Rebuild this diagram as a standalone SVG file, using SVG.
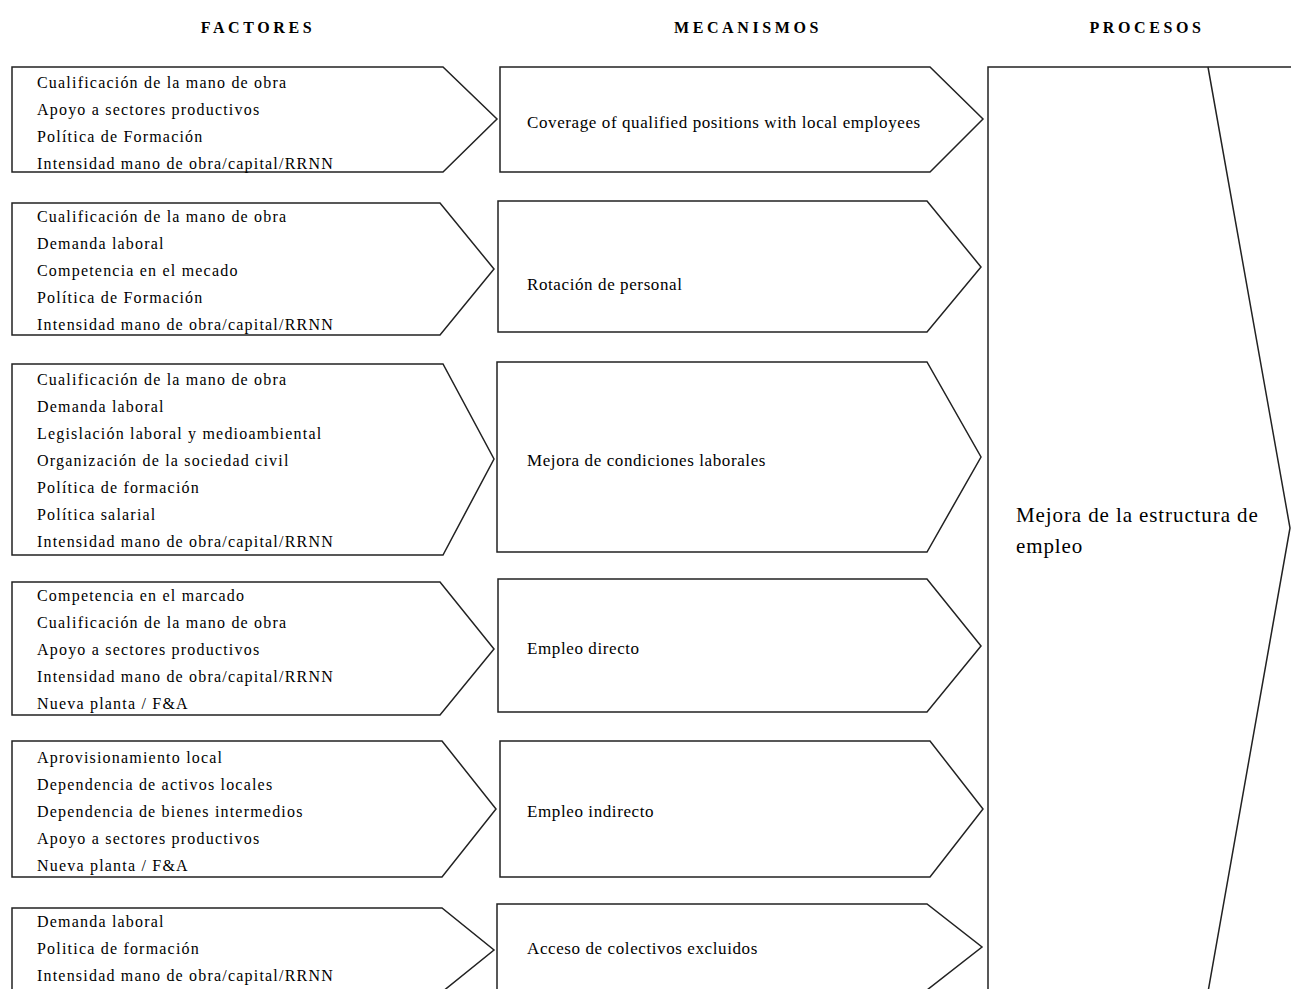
<svg xmlns="http://www.w3.org/2000/svg" width="1291" height="989" viewBox="0 0 1291 989">
  <style>
    .box { fill: #ffffff; stroke: #222222; stroke-width: 1.5; stroke-linejoin: miter; }
    .head { font-family: "Liberation Serif", "Times New Roman", serif; font-size: 16px; font-weight: bold; letter-spacing: 3.6px; fill: #000; text-anchor: middle; }
    .fac { font-family: "Liberation Serif", "Times New Roman", serif; font-size: 16px; letter-spacing: 1.2px; fill: #000; }
    .mec { font-family: "Liberation Serif", "Times New Roman", serif; font-size: 17px; letter-spacing: 0.6px; fill: #000; }
    .pro { font-family: "Liberation Serif", "Times New Roman", serif; font-size: 21px; letter-spacing: 0.9px; fill: #000; }
  </style>
  <rect width="1291" height="989" fill="#ffffff"/>

  <!-- column headings -->
  <g id="headings">
    <text class="head" x="258" y="33">FACTORES</text>
    <text class="head" x="748" y="33">MECANISMOS</text>
    <text class="head" x="1147" y="33">PROCESOS</text>
  </g>

  <!-- factor chevrons -->
  <g id="factor-1">
    <polygon class="box" points="12,67 443,67 497,119 443,172 12,172"/>
    <text class="fac" x="37" y="88">Cualificación de la mano de obra</text>
    <text class="fac" x="37" y="115">Apoyo a sectores productivos</text>
    <text class="fac" x="37" y="142">Política de Formación</text>
    <text class="fac" x="37" y="169">Intensidad mano de obra/capital/RRNN</text>
  </g>
  <g id="factor-2">
    <polygon class="box" points="12,203 440,203 494,269 440,335 12,335"/>
    <text class="fac" x="37" y="222">Cualificación de la mano de obra</text>
    <text class="fac" x="37" y="249">Demanda laboral</text>
    <text class="fac" x="37" y="276">Competencia en el mecado</text>
    <text class="fac" x="37" y="303">Política de Formación</text>
    <text class="fac" x="37" y="330">Intensidad mano de obra/capital/RRNN</text>
  </g>
  <g id="factor-3">
    <polygon class="box" points="12,364 443,364 494,459 443,555 12,555"/>
    <text class="fac" x="37" y="385">Cualificación de la mano de obra</text>
    <text class="fac" x="37" y="412">Demanda laboral</text>
    <text class="fac" x="37" y="439">Legislación laboral y medioambiental</text>
    <text class="fac" x="37" y="466">Organización de la sociedad civil</text>
    <text class="fac" x="37" y="493">Política de formación</text>
    <text class="fac" x="37" y="520">Política salarial</text>
    <text class="fac" x="37" y="547">Intensidad mano de obra/capital/RRNN</text>
  </g>
  <g id="factor-4">
    <polygon class="box" points="12,582 440,582 494,649 440,715 12,715"/>
    <text class="fac" x="37" y="601">Competencia en el marcado</text>
    <text class="fac" x="37" y="628">Cualificación de la mano de obra</text>
    <text class="fac" x="37" y="655">Apoyo a sectores productivos</text>
    <text class="fac" x="37" y="682">Intensidad mano de obra/capital/RRNN</text>
    <text class="fac" x="37" y="709">Nueva planta / F&amp;A</text>
  </g>
  <g id="factor-5">
    <polygon class="box" points="12,741 442,741 496,809 442,877 12,877"/>
    <text class="fac" x="37" y="763">Aprovisionamiento local</text>
    <text class="fac" x="37" y="790">Dependencia de activos locales</text>
    <text class="fac" x="37" y="817">Dependencia de bienes intermedios</text>
    <text class="fac" x="37" y="844">Apoyo a sectores productivos</text>
    <text class="fac" x="37" y="871">Nueva planta / F&amp;A</text>
  </g>
  <g id="factor-6">
    <polygon class="box" points="12,908 442,908 494,950 442,992 12,992"/>
    <text class="fac" x="37" y="927">Demanda laboral</text>
    <text class="fac" x="37" y="954">Politica de formación</text>
    <text class="fac" x="37" y="981">Intensidad mano de obra/capital/RRNN</text>
  </g>

  <!-- mechanism chevrons -->
  <g id="mechanism-1">
    <polygon class="box" points="500,67 930,67 983,119 930,172 500,172"/>
    <text class="mec" x="527" y="128">Coverage of qualified positions with local employees</text>
  </g>
  <g id="mechanism-2">
    <polygon class="box" points="498,201 927,201 981,267 927,332 498,332"/>
    <text class="mec" x="527" y="290">Rotación de personal</text>
  </g>
  <g id="mechanism-3">
    <polygon class="box" points="497,362 927,362 981,457 927,552 497,552"/>
    <text class="mec" x="527" y="466">Mejora de condiciones laborales</text>
  </g>
  <g id="mechanism-4">
    <polygon class="box" points="498,579 927,579 981,646 927,712 498,712"/>
    <text class="mec" x="527" y="654">Empleo directo</text>
  </g>
  <g id="mechanism-5">
    <polygon class="box" points="500,741 930,741 983,809 930,877 500,877"/>
    <text class="mec" x="527" y="817">Empleo indirecto</text>
  </g>
  <g id="mechanism-6">
    <polygon class="box" points="497,904 927,904 982,947 927,990 497,990"/>
    <text class="mec" x="527" y="954">Acceso de colectivos excluidos</text>
  </g>

  <!-- process block -->
  <g id="process">
    <path class="box" d="M988,992 L988,67 L1292,67"/>
    <path class="box" fill="none" d="M1208,67 L1290,528 L1208,992"/>
    <text class="pro" x="1016" y="522">Mejora de la estructura de</text>
    <text class="pro" x="1016" y="553">empleo</text>
  </g>

  <g id="connectors"/>
</svg>
